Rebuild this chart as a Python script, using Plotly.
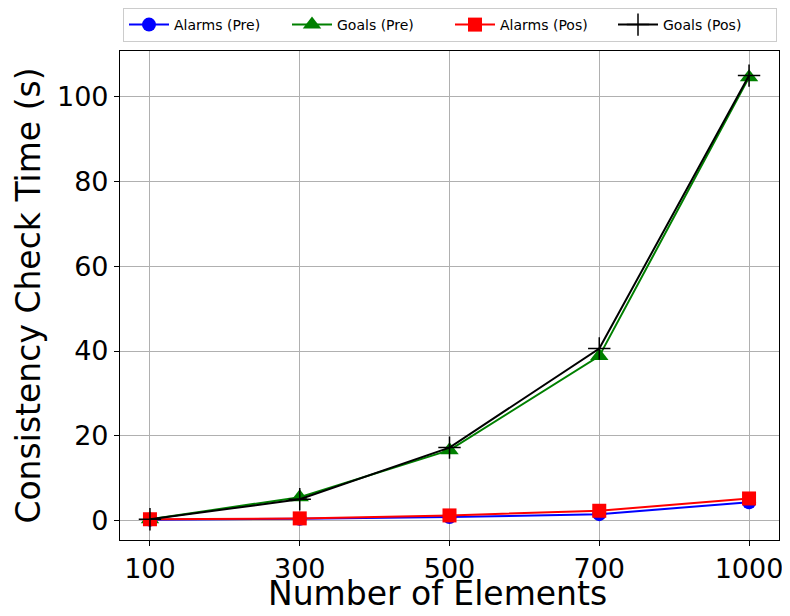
import plotly.graph_objects as go

elements = ["100", "300", "500", "700", "1000"]
alarms_pre = [0.2, 0.4, 0.8, 1.5, 4.3]
goals_pre = [0.3, 5.5, 16.6, 38.8, 104.6]
alarms_pos = [0.3, 0.5, 1.2, 2.3, 5.2]
goals_pos = [0.3, 5.0, 17.2, 40.6, 105.0]
x_title = "Number of Elements"
y_title = "Consistency Check Time (s)"

fig = go.Figure()
fig.add_trace(go.Scatter(x=elements, y=alarms_pre, name="Alarms (Pre)", mode="lines+markers",
                         line=dict(color="blue", width=2),
                         marker=dict(symbol="circle", size=14, color="blue")))
fig.add_trace(go.Scatter(x=elements, y=goals_pre, name="Goals (Pre)", mode="lines+markers",
                         line=dict(color="green", width=2),
                         marker=dict(symbol="triangle-up", size=16, color="green")))
fig.add_trace(go.Scatter(x=elements, y=alarms_pos, name="Alarms (Pos)", mode="lines+markers",
                         line=dict(color="red", width=2),
                         marker=dict(symbol="square", size=14, color="red")))
fig.add_trace(go.Scatter(x=elements, y=goals_pos, name="Goals (Pos)", mode="lines+markers",
                         line=dict(color="black", width=2),
                         marker=dict(symbol="cross-thin", size=16, color="black",
                                     line=dict(color="black", width=1.5))))

# page body has an 8px margin, so the figure is 8px smaller and margins are shifted
fig.update_layout(
    width=782, height=608,
    margin=dict(l=112, r=11, t=43, b=76, autoexpand=False),
    paper_bgcolor="white", plot_bgcolor="white",
    font=dict(family="DejaVu Sans", color="black"),
    showlegend=True,
    legend=dict(orientation="h", xref="container", x=(450 - 8) / 782, xanchor="center",
                yref="container", y=1.0, yanchor="top",
                bordercolor="#cccccc", borderwidth=1, font=dict(size=14),
                itemwidth=40, entrywidth=108, entrywidthmode="pixels",
                tracegroupgap=0),
    annotations=[dict(text=x_title, xref="paper", yref="paper", x=0.482, y=-0.153,
                      xanchor="center", yanchor="bottom", showarrow=False,
                      font=dict(size=33, color="black"))],
)
fig.update_xaxes(type="category", range=[-0.2, 4.2],
                 showline=True, linecolor="black", linewidth=1.1, mirror=True,
                 ticks="outside", ticklen=5, tickcolor="black",
                 showgrid=True, gridcolor="#b0b0b0", gridwidth=1.1,
                 tickfont=dict(size=27))
fig.update_yaxes(range=[-4.6, 110.8], tickvals=[0, 20, 40, 60, 80, 100],
                 showline=True, linecolor="black", linewidth=1.1, mirror=True,
                 ticks="outside", ticklen=5, tickcolor="black",
                 showgrid=True, gridcolor="#b0b0b0", gridwidth=1.1, zeroline=False,
                 tickfont=dict(size=27),
                 title=dict(text=y_title, font=dict(size=33), standoff=6))

fig.write_html("out.html")
